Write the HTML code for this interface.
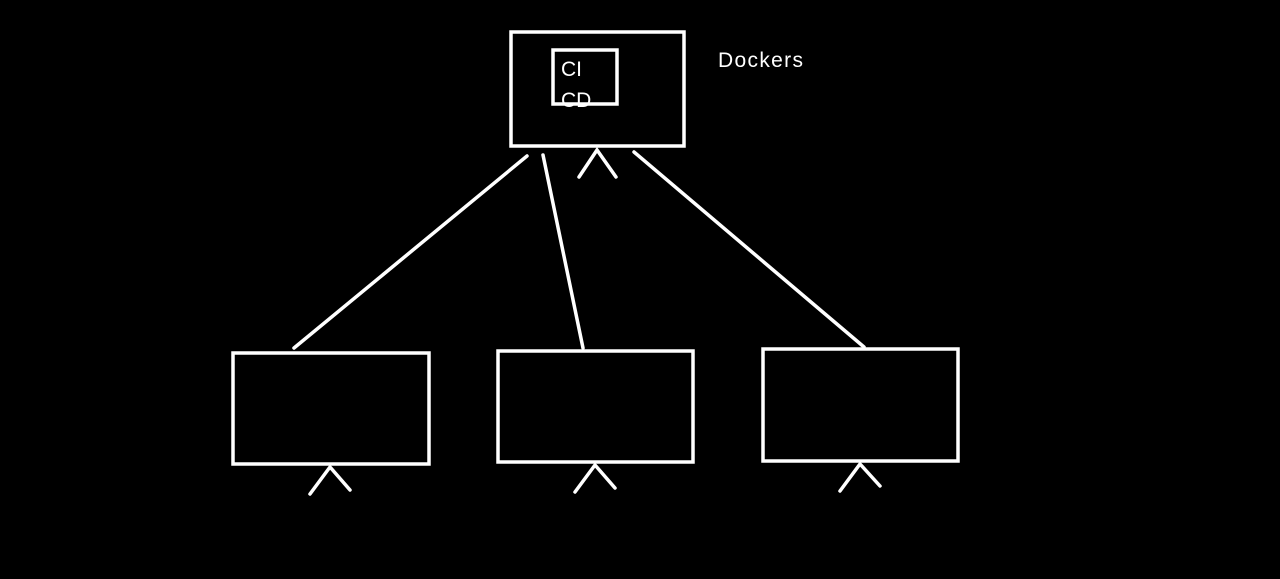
<!DOCTYPE html>
<html><head><style>html,body{margin:0;background:#000;width:1280px;height:579px;overflow:hidden}</style></head>
<body>
<svg width="1280" height="579" xmlns="http://www.w3.org/2000/svg" style="display:block">
<rect width="1280" height="579" fill="#000"/>
<g fill="none" stroke="#fff" stroke-width="3.5" stroke-linecap="round">
<rect x="511" y="32" width="173" height="114"/>
<rect x="553" y="50" width="64" height="54"/>
<rect x="233" y="353" width="196" height="111"/>
<rect x="498" y="351" width="195" height="111"/>
<rect x="763" y="349" width="195" height="112"/>
<line x1="527" y1="156" x2="294" y2="348"/>
<line x1="543" y1="155" x2="583" y2="348"/>
<line x1="634" y1="152" x2="864" y2="347"/>
<polyline points="579,177 597,150 616,177"/>
<polyline points="310,494 330,467 350,490"/>
<polyline points="575,492 595,465 615,488"/>
<polyline points="840,491 860,464 880,486"/>
</g>
<g fill="#fff" font-family="Liberation Sans, sans-serif" font-size="21">
<text x="561" y="76">CI</text>
<text x="561" y="107">CD</text>
<text x="718" y="67" textLength="85">Dockers</text>
</g>
</svg>
</body></html>
